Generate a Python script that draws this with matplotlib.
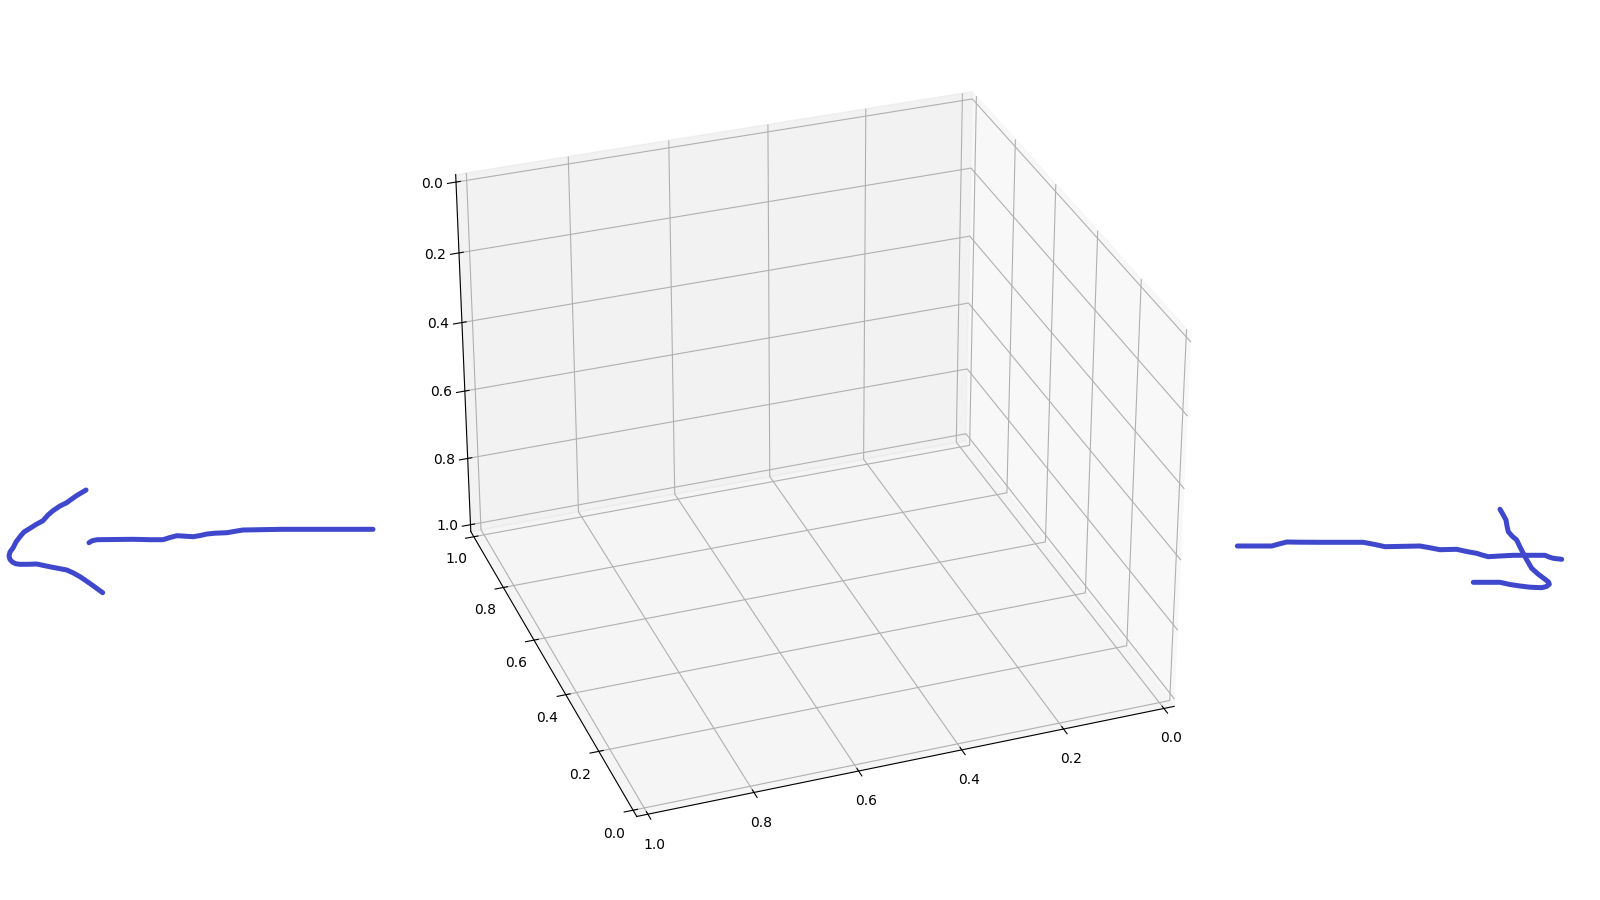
import matplotlib
matplotlib.use('Agg')
import matplotlib.pyplot as plt

# Hand-drawn strokes, in reference pixel coordinates
left_shaft_x = [373,350,333,283,243,235,227,215,207,200,193,185,177,170,163,150,133,97,92,89]
left_shaft_y = [529.3,529.3,529.3,529.3,530,531.3,532.7,533.2,534,535.6,536.7,536.2,535.7,537.5,539.7,539.7,539.3,539.7,540.8,542.7]
left_head_x = [86,76,66.7,60,53,48,43,36,30,24,20,16,13,10,9,10,12.7,16,20,28,36.7,50,66.7,73,80,90,102.7]
left_head_y = [490,496,502.7,506,510.7,515,520.7,524.5,528.3,532,536.7,542,548,552,556,559.5,562.3,563.8,564.3,564.3,564,566.8,570,572.8,576.7,583.5,592.7]
right_shaft_x = [1237.3,1255,1271.7,1279,1286.7,1300,1320,1363.3,1375,1385,1400,1420,1430,1440,1456.7,1467,1476.7,1482,1488.3,1500,1513.3,1545,1549,1553.3,1561.7]
right_shaft_y = [546,546,546,544,542,542.2,542.3,542.3,544.5,546.7,546.4,546,547.8,549.7,549.3,551.6,553.3,555,556.7,556,555.3,555.3,557,558.3,559.3]
right_head_x = [1500,1503,1506,1507,1508.3,1512,1516.7,1520,1525,1528,1531.7,1538,1545,1548.5,1549.3,1546.5,1541.7,1530,1520,1510,1500,1487,1473.3]
right_head_y = [509.3,514.5,520,526,531.7,536,540,547,556.7,562,568.3,574,579.3,582,584.3,586.5,587.7,587.2,586,584.5,582.3,582.3,582.3]
strokes = [(left_shaft_x,left_shaft_y),(left_head_x,left_head_y),
           (right_shaft_x,right_shaft_y),(right_head_x,right_head_y)]

fig = plt.figure(figsize=(16,9), dpi=100)
ax = fig.add_subplot(projection='3d')
ax.view_init(elev=-150, azim=110)
ax.set_position([0.1126,0.016,0.775,0.968])

over = fig.add_axes([0,0,1,1], facecolor='none')
over.set_xlim(0,1600); over.set_ylim(900,0); over.axis('off')
for sx, sy in strokes:
    over.plot(sx, sy, color='#3f48cc', lw=3.6, solid_capstyle='round', solid_joinstyle='round')
fig.savefig('out.png', dpi=100)
